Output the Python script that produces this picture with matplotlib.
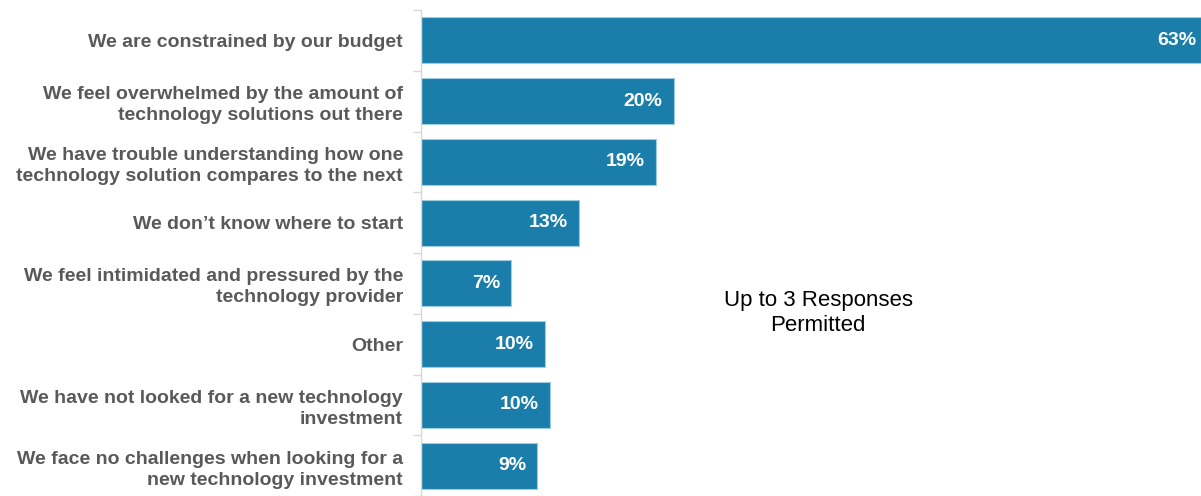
"""Horizontal bar chart of technology-buying challenges."""

import matplotlib.pyplot as plt
import numpy as np

plt.rcParams["font.family"] = ["Liberation Sans", "DejaVu Sans"]

CHALLENGES = [
    "We are constrained by our budget",
    "We feel overwhelmed by the amount of\ntechnology solutions out there",
    "We have trouble understanding how one\ntechnology solution compares to the next",
    "We don\u2019t know where to start",
    "We feel intimidated and pressured by the\ntechnology provider",
    "Other",
    "We have not looked for a new technology\ninvestment",
    "We face no challenges when looking for a\nnew technology investment",
]
SHARE_PCT = [63.0, 20.4, 19.0, 12.8, 7.3, 10.0, 10.4, 9.4]
NOTE = "Up to 3 Responses\nPermitted"

BAR_COLOR = "#1b7eaa"
EDGE_COLOR = "#9fcbe0"
LABEL_COLOR = "#595959"
AXIS_COLOR = "#d9d9d9"


def main() -> None:
    fig = plt.figure(figsize=(12.01, 4.96), dpi=100)
    W, H = 1201, 496
    # axes spans from the value axis at x=421 to the right edge; top boundary at y=10
    ax = fig.add_axes([421 / W, 0, 1 - 421 / W, (H - 10) / H])

    y = np.arange(len(CHALLENGES))
    ax.barh(y, SHARE_PCT, height=0.76, color=BAR_COLOR,
            edgecolor=EDGE_COLOR, linewidth=0.8)

    for yi, v in zip(y, SHARE_PCT):
        # the widest bar hits the canvas edge, so its label sits a little tighter
        dx = -3 if v == max(SHARE_PCT) else -8
        ax.annotate(f"{v:.0f}%", xy=(v, yi), xytext=(dx, 0),
                    textcoords="offset points", ha="right", va="center",
                    color="white", fontsize=14, fontweight="bold")

    ax.set_xlim(0, 63)
    # bottom row runs slightly off the canvas
    ax.set_ylim(7.5 - 10 / 62, -0.5)

    ax.set_yticks(y)
    ax.set_yticklabels(CHALLENGES, fontsize=14, fontweight="bold",
                       color=LABEL_COLOR, linespacing=1.3)
    ax.tick_params(axis="y", which="major", length=0, pad=13)
    ax.set_yticks(np.arange(-0.5, 8, 1), minor=True)
    ax.tick_params(axis="y", which="minor", length=6, width=1,
                   color=AXIS_COLOR)
    ax.set_xticks([])

    for side in ("top", "right", "bottom"):
        ax.spines[side].set_visible(False)
    ax.spines["left"].set_color(AXIS_COLOR)
    ax.spines["left"].set_linewidth(1)

    fig.text(818 / W, 1 - 313 / H, NOTE, ha="center", va="center",
             fontsize=16, color="black", linespacing=1.3)

    fig.savefig("out.png", dpi=100)
    plt.close(fig)


if __name__ == "__main__":
    main()
